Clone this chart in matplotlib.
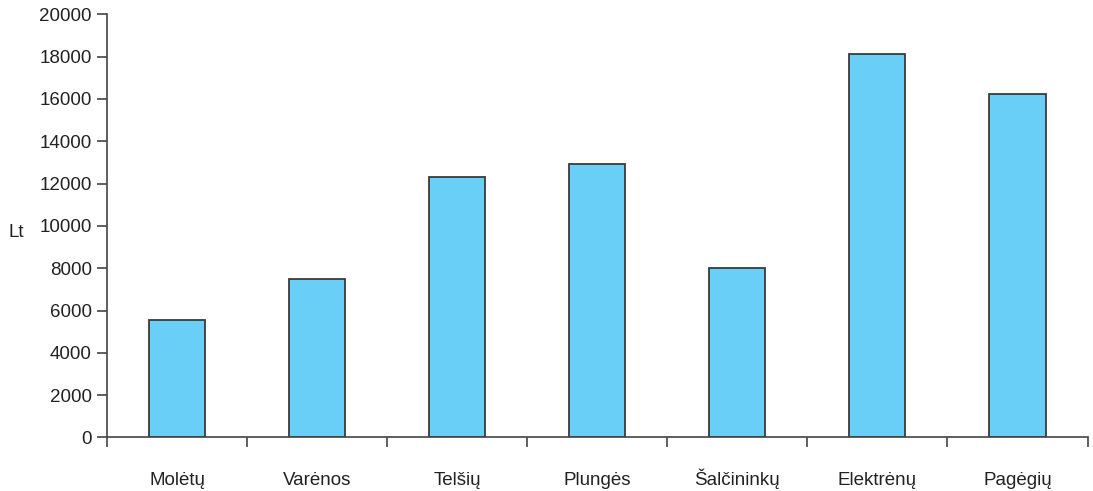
import matplotlib.pyplot as plt
import numpy as np

plt.rcParams['font.family'] = ['Liberation Sans', 'DejaVu Sans']

categories = ['Molėtų', 'Varėnos', 'Telšių', 'Plungės', 'Šalčininkų', 'Elektrėnų', 'Pagėgių']
values = [5550, 7500, 12300, 12900, 8000, 18100, 16250]
y_ticks = [0, 2000, 4000, 6000, 8000, 10000, 12000, 14000, 16000, 18000, 20000]

fig = plt.figure(figsize=(10.93, 4.91), dpi=100)
ax = fig.add_axes([0.098, 0.109, 0.897, 0.862])

x = np.arange(len(categories))
ax.bar(x, values, width=0.4, color='#6acff6', edgecolor='#3a3a3a', linewidth=1.3, zorder=2)

ax.set_xlim(-0.5, len(categories) - 0.5)
ax.set_ylim(0, 20000)
ax.set_yticks(y_ticks)
ax.set_yticklabels([str(t) for t in y_ticks])

# boundary ticks between categories, labels centred on bars
ax.set_xticks(np.arange(len(categories) + 1) - 0.5)
ax.set_xticklabels([])
ax.set_xticks(x, minor=True)
ax.set_xticklabels(categories, minor=True)
ax.tick_params(axis='x', which='minor', length=0, pad=34.5, labelsize=13.5, colors='#222222')
for lbl in ax.get_xticklabels(minor=True):
    lbl.set_verticalalignment('baseline')
ax.tick_params(axis='x', which='major', direction='out', length=7, width=1.2, color='#444444')
ax.tick_params(axis='y', direction='out', length=7, width=1.2, color='#444444', labelsize=13.5,
               labelcolor='#222222', pad=4)

for side in ['top', 'right']:
    ax.spines[side].set_visible(False)
for side in ['left', 'bottom']:
    ax.spines[side].set_color('#444444')
    ax.spines[side].set_linewidth(1.2)

ax.set_ylabel('Lt', rotation=0, fontsize=13.5, color='#222222', va='center', ha='center')
ax.yaxis.set_label_coords(-0.093, 0.485)

fig.savefig('out.png', dpi=100)
